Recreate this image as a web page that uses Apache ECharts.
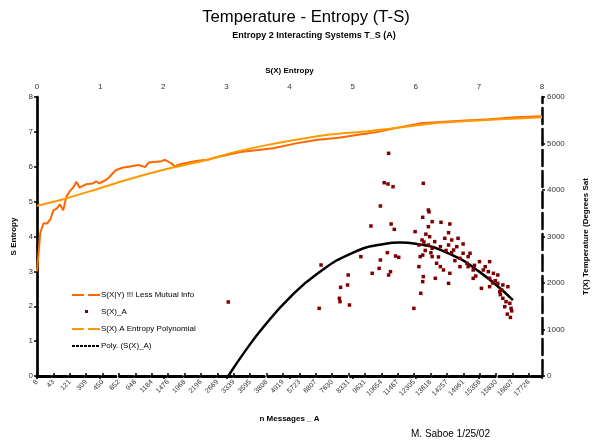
<!DOCTYPE html>
<html><head><meta charset="utf-8">
<script src="https://cdn.jsdelivr.net/npm/echarts@6/dist/echarts.min.js"></script>
<style>html,body{margin:0;padding:0;background:#fff}#c{width:598px;height:447px}</style>
</head><body><div id="c"></div>
<script>
// Bottom category axis tick labels (n Messages _ A), one every 5 categories
const msgLabels = ['8','43','121','309','450','652','946','1184','1476','1968','2196','2669','3339','3595','3808','4919','5723','6807','7630','8331','9631','10654','11467','12305','13618','14257','14961','15358','15830','16807','17726'];
const nCategories = 155;

// S(X|Y) !!! Less Mutual Info  (category index, S entropy)
const condIdx = [0,1,2,3,4,5,6,7,8,9,10,11,12,13,15,17,18,19,21,22,24,26,31,33,34,38,39,41,42,43,45,49,52,55,62,72,79,85,92,98,104,109,117,128,138,146,154];
const condVal = [3.0,4.1,4.38,4.37,4.48,4.75,4.8,4.92,4.75,5.15,5.3,5.4,5.57,5.4,5.5,5.52,5.58,5.52,5.62,5.7,5.9,5.97,6.05,5.99,6.12,6.16,6.2,6.1,6.0,6.05,6.1,6.17,6.2,6.28,6.42,6.53,6.67,6.77,6.83,6.92,7.0,7.1,7.25,7.31,7.36,7.42,7.45];

// S(X) A Entropy Polynomial  (category index, S entropy)
const polyIdx = [0,8,18,28,38,52,59,70,80,90,101,111,121,131,141,154];
const polyVal = [4.88,5.07,5.35,5.64,5.9,6.2,6.39,6.62,6.79,6.93,7.02,7.13,7.25,7.31,7.36,7.42];

// S(X)_A scatter: S(X) entropy (top axis) vs T(X) temperature (right axis)
const scatterS = [5.57,5.50,5.56,5.64,6.12,5.44,5.29,5.61,5.66,6.20,6.21,6.11,5.99,6.20,6.26,6.40,6.54,6.52,6.22,6.10,6.13,6.05,6.46,6.57,6.65,6.75,6.60,6.70,6.86,6.81,6.33,6.39,6.44,6.54,6.52,6.31,6.12,6.11,6.08,6.05,6.07,6.11,6.26,5.97,5.68,5.73,5.55,5.44,5.42,5.60,5.57,5.31,5.13,4.93,4.92,4.81,4.79,4.80,4.95,4.50,4.47,6.91,7.07,7.17,7.15,7.23,7.30,7.04,7.17,7.30,7.33,7.38,7.46,7.38,7.43,7.49,7.51,7.41,6.83,6.93,6.70,7.01,6.91,6.20,6.26,6.39,6.52,6.15,6.57,6.67,6.75,6.83,7.17,7.26,7.36,3.03,7.45,7.50,7.52,6.16,6.30,6.48,6.62,6.95,7.10,7.22,7.34,6.24,6.36];
const scatterT = [4789,4157,4129,4071,4143,3656,3226,3269,3154,3570,3530,3413,3104,3211,3319,3305,3269,3082,2996,2925,2880,2817,2961,2925,2781,2839,2710,2531,2639,2424,2424,2352,2280,2208,1993,2101,2137,2029,1778,2352,2567,2600,2567,1455,2581,2552,2653,2495,2315,2244,2172,2208,2567,2172,1957,1907,1671,1598,1527,2387,1455,2101,2280,2459,2244,2208,2172,1886,1921,1993,1814,1957,1921,1671,1598,1563,1455,1490,2352,2380,2352,2459,2280,2817,2746,2781,2817,2700,2653,2961,2639,2567,2101,2050,1850,1591,1330,1260,1400,3050,2890,2700,2480,2150,2350,2000,1750,2650,2560];

// Poly. (S(X)_A) trendline points
const trendS = [3.03,3.3,3.6,4.0,4.45,5.0,5.5,5.75,6.0,6.5,7.0,7.54];
const trendT = [0,540,1075,1680,2210,2650,2840,2870,2845,2650,2250,1630];

const categories = [];
for (let i = 0; i < nCategories; i++) categories.push(i % 5 === 0 ? msgLabels[i / 5] : '');

const FONT = 'Liberation Sans, Arial, sans-serif';
const chart = echarts.init(document.getElementById('c'), null, {renderer: 'canvas'});
const zip = (a, b) => a.map((v, i) => [v, b[i]]);

chart.setOption({
  backgroundColor: '#fff',
  animation: false,
  textStyle: {fontFamily: FONT},
  title: [
    {text: 'Temperature - Entropy (T-S)', left: 301, textAlign: 'center', top: 4,
     textStyle: {fontFamily: FONT, fontSize: 16.7, fontWeight: 'normal', color: '#000'}},
    {text: 'Entropy 2 Interacting Systems T_S (A)', left: 309, textAlign: 'center', top: 26,
     textStyle: {fontFamily: FONT, fontSize: 9, fontWeight: 'bold', color: '#000'}}
  ],
  grid: {left: 37, right: 52, top: 97, bottom: 71, containLabel: false},
  legend: {
    orient: 'vertical', left: 67, top: 286, itemWidth: 28, itemHeight: 8, itemGap: 9,
    textStyle: {fontFamily: FONT, fontSize: 8, color: '#000', padding: [0,0,0,-4]},
    itemStyle: {borderWidth: 0},
    data: [
      {name: 'S(X|Y) !!! Less Mutual Info', icon: 'path://M0,0M28,8M0,3h12v2h-12zM16,3h12v2h-12z'},
      {name: 'S(X)_A', icon: 'path://M0,0M28,8M13,2h3v3h-3z'},
      {name: 'S(X) A Entropy Polynomial', icon: 'path://M0,0M28,8M0,3h12v2h-12zM16,3h12v2h-12z'},
      {name: 'Poly. (S(X)_A)', icon: 'path://M0,0M28,8M0,3h3v2h-3zM4,3h3v2h-3zM8,3h3v2h-3zM12,3h3v2h-3zM16,3h3v2h-3zM20,3h3v2h-3zM24,3h3v2h-3z'}
    ]
  },
  xAxis: [
    {type: 'category', position: 'bottom', data: categories, boundaryGap: false,
     name: 'n Messages _ A', nameLocation: 'middle', nameGap: 39,
     nameTextStyle: {fontFamily: FONT, fontSize: 8, fontWeight: 'bold', color: '#000'},
     axisLine: {lineStyle: {color: '#000', width: 3, type: [12.8, 3.7]}},
     axisTick: {show: true, interval: 4, inside: true, length: 3, lineStyle: {color: '#000', width: 1.5}},
     axisLabel: {interval: 4, rotate: 45, fontSize: 7, color: '#333', margin: 5, fontFamily: FONT},
     splitLine: {show: false}},
    {type: 'value', position: 'top', min: 0, max: 8, interval: 1,
     name: 'S(X) Entropy', nameLocation: 'middle', nameGap: 22,
     nameTextStyle: {fontFamily: FONT, fontSize: 8, fontWeight: 'bold', color: '#000'},
     axisLine: {show: true, lineStyle: {color: '#000', width: 2.5, type: [16, 5]}},
     axisTick: {show: true, inside: true, length: 3, lineStyle: {color: '#000', width: 1.5}},
     axisLabel: {fontSize: 8, color: '#333', margin: 6, fontFamily: FONT},
     splitLine: {show: false}}
  ],
  yAxis: [
    {type: 'value', position: 'left', min: 0, max: 8, interval: 1,
     name: 'S Entropy', nameLocation: 'middle', nameGap: 12,
     nameTextStyle: {fontFamily: FONT, fontSize: 8, fontWeight: 'bold', color: '#000'},
     axisLine: {show: true, lineStyle: {color: '#000', width: 2.7}},
     axisTick: {show: true, length: 3, lineStyle: {color: '#000', width: 1.5}},
     axisLabel: {fontSize: 8, color: '#333', margin: 4, fontFamily: FONT},
     splitLine: {show: false}},
    {type: 'value', position: 'right', min: 0, max: 6000, interval: 1000,
     name: 'T(X) Temperature (Degrees Sat', nameLocation: 'middle', nameGap: 40,
     nameTextStyle: {fontFamily: FONT, fontSize: 8, fontWeight: 'bold', color: '#000'},
     axisLine: {show: true, lineStyle: {color: '#000', width: 2.5, type: [16, 5]}},
     axisTick: {show: true, length: 3, lineStyle: {color: '#000', width: 1.5}},
     axisLabel: {fontSize: 8, color: '#333', margin: 5, fontFamily: FONT, formatter: v => String(v)},
     splitLine: {show: false}}
  ],
  series: [
    {name: 'S(X|Y) !!! Less Mutual Info', type: 'line', xAxisIndex: 0, yAxisIndex: 0,
     data: zip(condIdx, condVal), showSymbol: false, symbol: 'none',
     itemStyle: {color: '#FF6600'}, lineStyle: {color: '#FF6600', width: 2}, z: 3},
    {name: 'S(X)_A', type: 'scatter', xAxisIndex: 1, yAxisIndex: 1,
     data: zip(scatterS, scatterT), symbol: 'rect', symbolSize: 3.5,
     itemStyle: {color: '#800000', opacity: 1}, z: 5},
    {name: 'S(X) A Entropy Polynomial', type: 'line', xAxisIndex: 0, yAxisIndex: 0,
     data: zip(polyIdx, polyVal), showSymbol: false, symbol: 'none', smooth: 0.3,
     itemStyle: {color: '#FF9900'}, lineStyle: {color: '#FF9900', width: 2}, z: 4},
    {name: 'Poly. (S(X)_A)', type: 'line', xAxisIndex: 1, yAxisIndex: 1,
     data: zip(trendS, trendT), showSymbol: false, symbol: 'none', smooth: true,
     itemStyle: {color: '#000'}, lineStyle: {color: '#000', width: 2.5}, z: 4}
  ],
  graphic: [
    {type: 'text', left: 411, top: 429,
     style: {text: 'M. Saboe 1/25/02', font: '10px ' + FONT, fill: '#000'}}
  ]
});
</script>
</body></html>
